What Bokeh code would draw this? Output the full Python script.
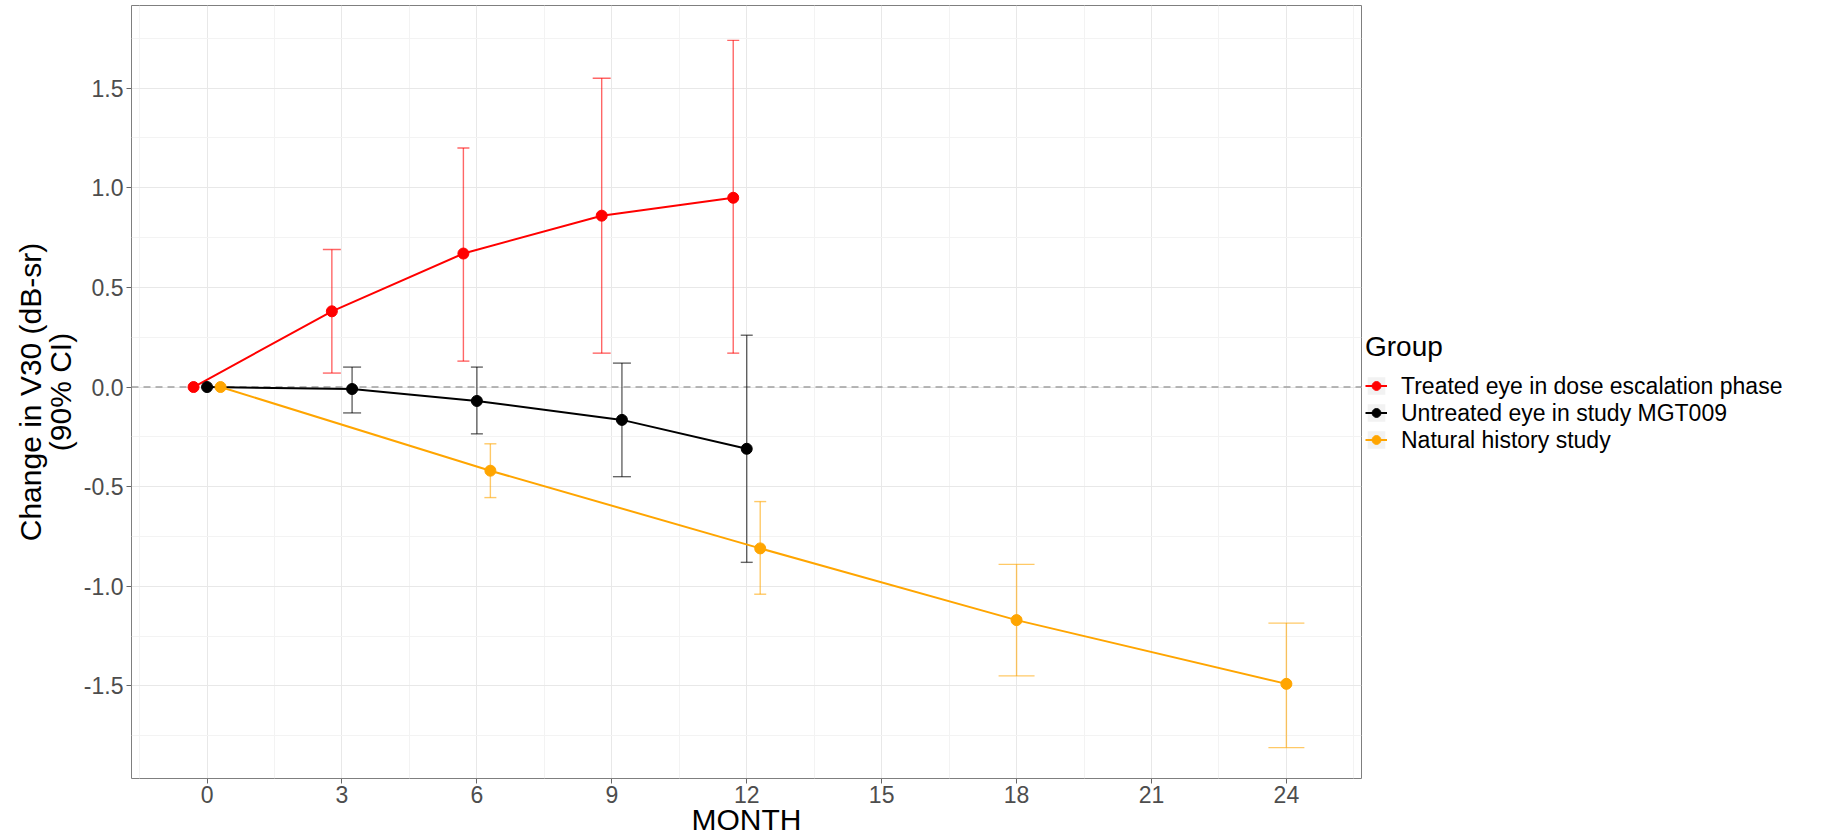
import math
from collections import defaultdict
from bokeh.plotting import figure
from bokeh.models import (Range1d, FixedTicker, PrintfTickFormatter, Span,
                          Legend, LegendItem, ColumnDataSource)
from bokeh.embed import file_html
from bokeh.resources import INLINE

nan = float("nan")

groups = ["Treated eye in dose escalation phase",
          "Untreated eye in study MGT009",
          "Natural history study"]
colors = ["#FF0000", "#000000", "#FFA500"]

treated_month = [0, 3, 6, 9, 12]
treated_mean = [0.0, 0.38, 0.67, 0.86, 0.95]
treated_lower = [nan, 0.07, 0.13, 0.17, 0.17]
treated_upper = [nan, 0.69, 1.20, 1.55, 1.74]

untreated_month = [0, 3, 6, 9, 12]
untreated_mean = [0.0, -0.01, -0.07, -0.165, -0.31]
untreated_lower = [nan, -0.13, -0.235, -0.45, -0.88]
untreated_upper = [nan, 0.10, 0.10, 0.12, 0.26]

natural_month = [0, 6, 12, 18, 24]
natural_mean = [0.0, -0.42, -0.81, -1.17, -1.49]
natural_lower = [nan, -0.555, -1.04, -1.45, -1.81]
natural_upper = [nan, -0.285, -0.575, -0.89, -1.185]

x_ticks = [0, 3, 6, 9, 12, 15, 18, 21, 24]
y_ticks = [-1.5, -1.0, -0.5, 0.0, 0.5, 1.0, 1.5]

series = [
    (treated_month, treated_mean, treated_lower, treated_upper),
    (untreated_month, untreated_mean, untreated_lower, untreated_upper),
    (natural_month, natural_mean, natural_lower, natural_upper),
]

# position_dodge(width=0.9) like ggplot, errorbar width 0.8
DODGE = 0.9
EBW = 0.8
present = defaultdict(list)
for gi, s in enumerate(series):
    for m in s[0]:
        present[m].append(gi)


def dodge(gi, m):
    g = present[m]
    n = len(g)
    k = g.index(gi)
    return m + (k - (n - 1) / 2) * DODGE / n, EBW / n


FONT = "Liberation Sans"

p = figure(width=None, height=838, frame_width=1230,
           x_range=Range1d(-1.68, 25.67), y_range=Range1d(-1.965, 1.915),
           output_backend="svg", toolbar_location=None,
           min_border_left=131, min_border_top=5, min_border_bottom=0,
           min_border_right=0)
p.background_fill_color = "white"
p.border_fill_color = "white"
p.outline_line_color = "#7F7F7F"
p.outline_line_width = 1

x_minor = [t - 1.5 for t in x_ticks] + [x_ticks[-1] + 1.5]
y_minor = [t - 0.25 for t in y_ticks] + [y_ticks[-1] + 0.25]
xt = FixedTicker(ticks=x_ticks, minor_ticks=x_minor)
yt = FixedTicker(ticks=y_ticks, minor_ticks=y_minor)
p.xaxis.ticker = xt
p.yaxis.ticker = yt
p.xgrid.ticker = xt
p.ygrid.ticker = yt
p.yaxis.formatter = PrintfTickFormatter(format="%.1f")

for g in (p.xgrid, p.ygrid):
    g.grid_line_color = "#E8E8E8"
    g.grid_line_width = 1
    g.minor_grid_line_color = "#F3F3F3"
    g.minor_grid_line_width = 1

for ax in (p.xaxis, p.yaxis):
    ax.axis_line_color = None
    ax.major_tick_line_color = "#666666"
    ax.major_tick_out = 5
    ax.major_tick_in = 0
    ax.minor_tick_out = 0
    ax.minor_tick_in = 0
    ax.major_label_text_font = FONT
    ax.major_label_text_font_size = "23px"
    ax.major_label_text_color = "#4D4D4D"
    ax.axis_label_text_font = FONT
    ax.axis_label_text_font_size = "30px"
    ax.axis_label_text_font_style = "normal"
    ax.axis_label_text_color = "black"

p.xaxis.axis_label = "MONTH"
p.xaxis.major_label_standoff = 2
p.xaxis.axis_label_standoff = -3
p.yaxis.axis_label = "Change in V30 (dB-sr)\n(90% CI)"
p.yaxis.axis_label_text_line_height = 0.9
p.yaxis.major_label_standoff = 3
p.yaxis.axis_label_standoff = 4

zero = Span(location=0, dimension="width", line_color="#A0A0A0",
            line_dash="7 5", line_width=1.3, level="underlay")
p.add_layout(zero)

# error bars
for gi, (mo, mean, lo, hi) in enumerate(series):
    xs, los, his, x0s, x1s = [], [], [], [], []
    for m, l, h in zip(mo, lo, hi):
        if math.isnan(l) or math.isnan(h):
            continue
        xd, w = dodge(gi, m)
        xs.append(xd)
        los.append(l)
        his.append(h)
        x0s.append(xd - w / 2)
        x1s.append(xd + w / 2)
    src = ColumnDataSource(dict(x=xs, lo=los, hi=his, x0=x0s, x1=x1s))
    kw = dict(line_color=colors[gi], line_alpha=0.6, line_width=1.4, source=src)
    p.segment(x0="x", y0="lo", x1="x", y1="hi", **kw)
    p.segment(x0="x0", y0="lo", x1="x1", y1="lo", **kw)
    p.segment(x0="x0", y0="hi", x1="x1", y1="hi", **kw)

line_r, pt_r = [], []
for gi, (mo, mean, lo, hi) in enumerate(series):
    xd = [dodge(gi, m)[0] for m in mo]
    src = ColumnDataSource(dict(x=xd, y=mean))
    line_r.append(p.line("x", "y", source=src, line_color=colors[gi], line_width=2))
for gi, (mo, mean, lo, hi) in enumerate(series):
    xd = [dodge(gi, m)[0] for m in mo]
    src = ColumnDataSource(dict(x=xd, y=mean))
    pt_r.append(p.scatter("x", "y", source=src, marker="circle", size=11,
                          fill_color=colors[gi], line_color=colors[gi]))

bg = p.quad(left=[nan], right=[nan], top=[nan], bottom=[nan],
            fill_color="#F2F2F2", line_color=None)

items = [LegendItem(label=groups[i], renderers=[bg, line_r[i], pt_r[i]])
         for i in range(3)]
legend = Legend(items=items, title="Group", location="center_left",
                orientation="vertical")
legend.title_text_font = FONT
legend.title_text_font_size = "28px"
legend.title_text_font_style = "normal"
legend.title_text_color = "black"
legend.title_standoff = 10
legend.label_text_font = FONT
legend.label_text_font_size = "23px"
legend.label_text_line_height = 0.9
legend.label_text_color = "black"
legend.label_standoff = 14
legend.glyph_width = 22
legend.glyph_height = 22
legend.label_height = 22
legend.spacing = -5
legend.padding = 10
legend.margin = 4
legend.border_line_color = None
legend.background_fill_alpha = 0
p.add_layout(legend, "right")

open("out.html", "w").write(file_html(p, INLINE))
